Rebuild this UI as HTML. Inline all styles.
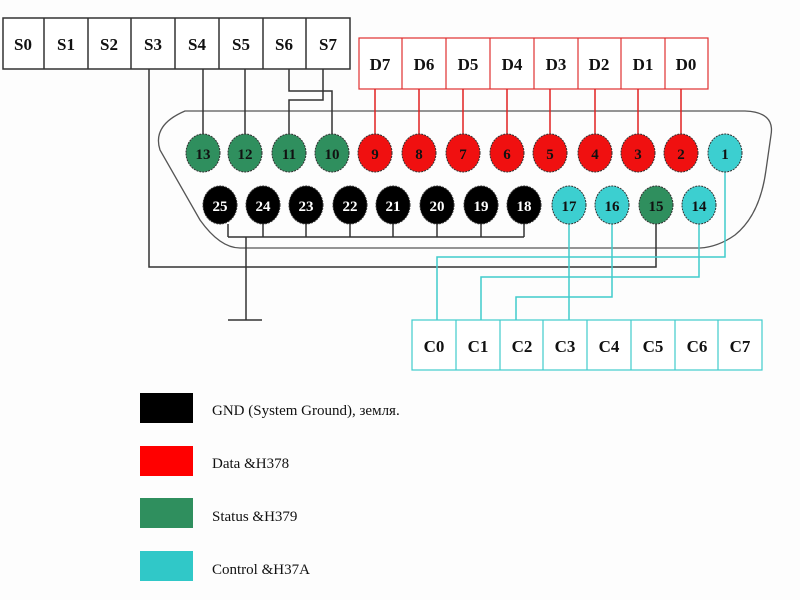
<!DOCTYPE html>
<html><head><meta charset="utf-8"><style>
html,body{margin:0;padding:0;background:#fff;}
svg{display:block;font-family:"Liberation Serif",serif;}
</style></head><body>
<svg width="800" height="600" viewBox="0 0 800 600" xmlns="http://www.w3.org/2000/svg">
<rect width="800" height="600" fill="#fdfdfd"/>
<!-- S boxes -->
<g stroke="#333" stroke-width="1.5" fill="#fff">
<rect x="3" y="18" width="347" height="51"/>
<line x1="44" y1="18" x2="44" y2="69"/><line x1="88" y1="18" x2="88" y2="69"/><line x1="131" y1="18" x2="131" y2="69"/><line x1="175" y1="18" x2="175" y2="69"/><line x1="219" y1="18" x2="219" y2="69"/><line x1="263" y1="18" x2="263" y2="69"/><line x1="306" y1="18" x2="306" y2="69"/>
</g>
<g font-size="17" font-weight="bold" text-anchor="middle" fill="#111">
<text x="23" y="50">S0</text><text x="66" y="50">S1</text><text x="109" y="50">S2</text><text x="153" y="50">S3</text><text x="197" y="50">S4</text><text x="241" y="50">S5</text><text x="284" y="50">S6</text><text x="328" y="50">S7</text>
</g>
<!-- D boxes -->
<g stroke="#e03030" stroke-width="1.2" fill="#fff">
<rect x="359" y="38" width="349" height="51"/>
<line x1="402" y1="38" x2="402" y2="89"/><line x1="446" y1="38" x2="446" y2="89"/><line x1="490" y1="38" x2="490" y2="89"/><line x1="534" y1="38" x2="534" y2="89"/><line x1="578" y1="38" x2="578" y2="89"/><line x1="621" y1="38" x2="621" y2="89"/><line x1="665" y1="38" x2="665" y2="89"/>
</g>
<g font-size="17" font-weight="bold" text-anchor="middle" fill="#111">
<text x="380" y="70">D7</text><text x="424" y="70">D6</text><text x="468" y="70">D5</text><text x="512" y="70">D4</text><text x="556" y="70">D3</text><text x="599" y="70">D2</text><text x="643" y="70">D1</text><text x="686" y="70">D0</text>
</g>
<!-- C boxes -->
<g stroke="#40cccc" stroke-width="1.2" fill="#fff">
<rect x="412" y="320" width="350" height="50"/>
<line x1="456" y1="320" x2="456" y2="370"/><line x1="500" y1="320" x2="500" y2="370"/><line x1="543" y1="320" x2="543" y2="370"/><line x1="587" y1="320" x2="587" y2="370"/><line x1="631" y1="320" x2="631" y2="370"/><line x1="675" y1="320" x2="675" y2="370"/><line x1="718" y1="320" x2="718" y2="370"/>
</g>
<g font-size="17" font-weight="bold" text-anchor="middle" fill="#111">
<text x="434" y="352">C0</text><text x="478" y="352">C1</text><text x="522" y="352">C2</text><text x="565" y="352">C3</text><text x="609" y="352">C4</text><text x="653" y="352">C5</text><text x="697" y="352">C6</text><text x="740" y="352">C7</text>
</g>
<!-- connector outline -->
<path d="M185 111 L745 111 Q775 112 771 135 L766 170 Q760 215 735 235 Q718 247 700 248 L240 248 Q220 248 200 220 L160 150 Q152 125 185 111 Z" fill="none" stroke="#555" stroke-width="1.3"/>
<!-- black wires -->
<g stroke="#333" stroke-width="1.5" fill="none">
<polyline points="149,69 149,267 656,267 656,224"/>
<line x1="203" y1="69" x2="203" y2="135"/>
<line x1="245" y1="69" x2="245" y2="135"/>
<polyline points="289,69 289,91 332,91 332,135"/>
<polyline points="323,69 323,100 289,100 289,135"/>
<line x1="228" y1="237" x2="524" y2="237"/>
<line x1="228" y1="224" x2="228" y2="237"/><line x1="263" y1="224" x2="263" y2="237"/><line x1="306" y1="224" x2="306" y2="237"/><line x1="350" y1="224" x2="350" y2="237"/><line x1="393" y1="224" x2="393" y2="237"/><line x1="437" y1="224" x2="437" y2="237"/><line x1="481" y1="224" x2="481" y2="237"/><line x1="524" y1="224" x2="524" y2="237"/>
<line x1="246" y1="237" x2="246" y2="320"/>
<line x1="228" y1="320" x2="262" y2="320"/>
</g>
<!-- red wires -->
<g stroke="#e02020" stroke-width="1.5">
<line x1="375" y1="89" x2="375" y2="135"/><line x1="419" y1="89" x2="419" y2="135"/><line x1="463" y1="89" x2="463" y2="135"/><line x1="507" y1="89" x2="507" y2="135"/><line x1="550" y1="89" x2="550" y2="135"/><line x1="595" y1="89" x2="595" y2="135"/><line x1="638" y1="89" x2="638" y2="135"/><line x1="681" y1="89" x2="681" y2="135"/>
</g>
<!-- cyan wires -->
<g stroke="#40cccc" stroke-width="1.5" fill="none">
<polyline points="725,172 725,257 437,257 437,320"/>
<polyline points="699,224 699,277 481,277 481,320"/>
<polyline points="612,224 612,297 516,297 516,320"/>
<line x1="569" y1="224" x2="569" y2="320"/>
</g>
<!-- pins -->
<g stroke="#333" stroke-width="1" stroke-dasharray="2,1">
<g fill="#2f8f5e"><ellipse cx="203" cy="153" rx="17" ry="19"/><ellipse cx="245" cy="153" rx="17" ry="19"/><ellipse cx="289" cy="153" rx="17" ry="19"/><ellipse cx="332" cy="153" rx="17" ry="19"/><ellipse cx="656" cy="205" rx="17" ry="19"/></g>
<g fill="#f01010"><ellipse cx="375" cy="153" rx="17" ry="19"/><ellipse cx="419" cy="153" rx="17" ry="19"/><ellipse cx="463" cy="153" rx="17" ry="19"/><ellipse cx="507" cy="153" rx="17" ry="19"/><ellipse cx="550" cy="153" rx="17" ry="19"/><ellipse cx="595" cy="153" rx="17" ry="19"/><ellipse cx="638" cy="153" rx="17" ry="19"/><ellipse cx="681" cy="153" rx="17" ry="19"/></g>
<g fill="#3ccfd0"><ellipse cx="725" cy="153" rx="17" ry="19"/><ellipse cx="569" cy="205" rx="17" ry="19"/><ellipse cx="612" cy="205" rx="17" ry="19"/><ellipse cx="699" cy="205" rx="17" ry="19"/></g>
<g fill="#000"><ellipse cx="220" cy="205" rx="17" ry="19"/><ellipse cx="263" cy="205" rx="17" ry="19"/><ellipse cx="306" cy="205" rx="17" ry="19"/><ellipse cx="350" cy="205" rx="17" ry="19"/><ellipse cx="393" cy="205" rx="17" ry="19"/><ellipse cx="437" cy="205" rx="17" ry="19"/><ellipse cx="481" cy="205" rx="17" ry="19"/><ellipse cx="524" cy="205" rx="17" ry="19"/></g>
</g>
<g font-size="15" font-weight="bold" text-anchor="middle" fill="#111">
<text x="203" y="159">13</text><text x="245" y="159">12</text><text x="289" y="159">11</text><text x="332" y="159">10</text>
<text x="375" y="159">9</text><text x="419" y="159">8</text><text x="463" y="159">7</text><text x="507" y="159">6</text><text x="550" y="159">5</text><text x="595" y="159">4</text><text x="638" y="159">3</text><text x="681" y="159">2</text><text x="725" y="159">1</text>
<text x="569" y="211">17</text><text x="612" y="211">16</text><text x="656" y="211">15</text><text x="699" y="211">14</text>
</g>
<g font-size="15" font-weight="bold" text-anchor="middle" fill="#fff">
<text x="220" y="211">25</text><text x="263" y="211">24</text><text x="306" y="211">23</text><text x="350" y="211">22</text><text x="393" y="211">21</text><text x="437" y="211">20</text><text x="481" y="211">19</text><text x="524" y="211">18</text>
</g>
<!-- legend -->
<rect x="140" y="393" width="53" height="30" fill="#000"/>
<rect x="140" y="446" width="53" height="30" fill="#f00"/>
<rect x="140" y="498" width="53" height="30" fill="#2f8f5e"/>
<rect x="140" y="551" width="53" height="30" fill="#30c8c8"/>
<g font-size="15" fill="#111">
<text x="212" y="415">GND (System Ground), земля.</text>
<text x="212" y="468">Data &amp;H378</text>
<text x="212" y="521">Status &amp;H379</text>
<text x="212" y="574">Control &amp;H37A</text>
</g>
</svg>
</body></html>
